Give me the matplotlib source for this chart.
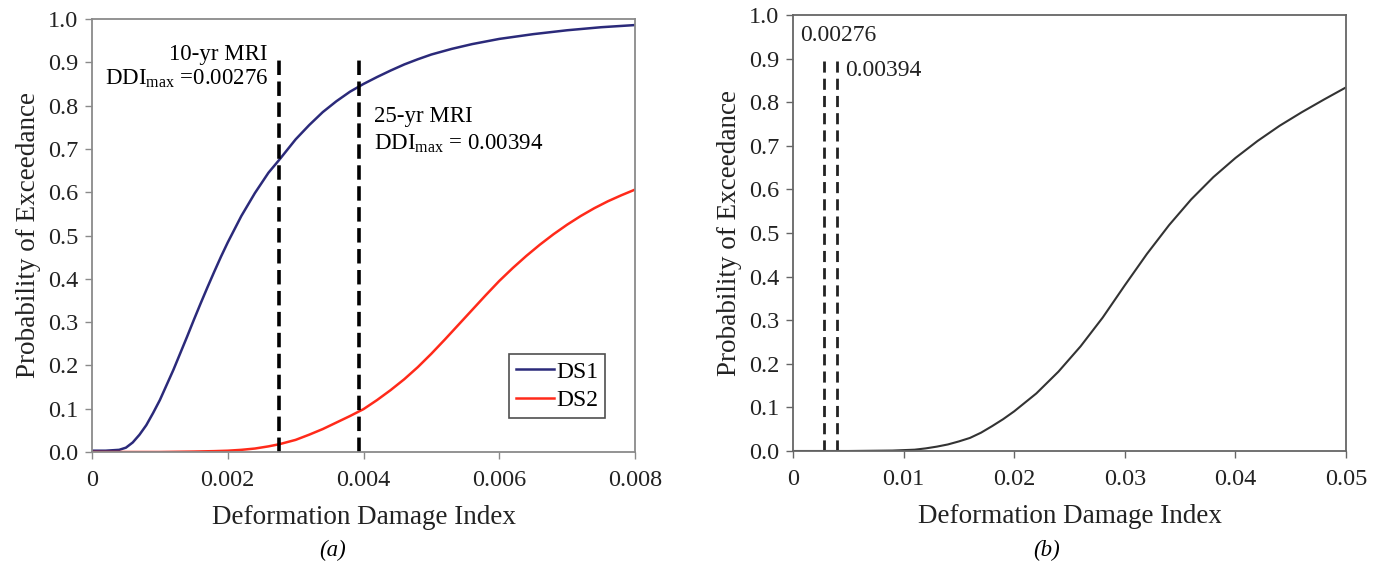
import matplotlib
matplotlib.use("Agg")
import matplotlib.pyplot as plt
import numpy as np

plt.rcParams['font.family'] = ['Liberation Serif', 'DejaVu Serif']
plt.rcParams['mathtext.fontset'] = 'custom'
plt.rcParams['mathtext.rm'] = 'Liberation Serif'
plt.rcParams['mathtext.it'] = 'Liberation Serif:italic'

# ---- data ----
ds1_x = [0.0, 0.0002, 0.0004, 0.0005, 0.0006, 0.0007, 0.0008, 0.0009, 0.0010,
         0.0011, 0.0012, 0.0013, 0.0014, 0.0015, 0.0016, 0.0017, 0.0018, 0.0019,
         0.0020, 0.0022, 0.0024, 0.0026, 0.00276, 0.0030, 0.0032, 0.0034, 0.0036,
         0.0038, 0.0040, 0.0042, 0.0044, 0.0046, 0.0048, 0.0050, 0.0053, 0.0056,
         0.0060, 0.0065, 0.0070, 0.0075, 0.0080]
ds1_y = [0.003, 0.003, 0.005, 0.010, 0.022, 0.040, 0.062, 0.090, 0.120,
         0.155, 0.190, 0.228, 0.266, 0.305, 0.343, 0.380, 0.416, 0.451,
         0.484, 0.545, 0.598, 0.645, 0.675, 0.722, 0.755, 0.785, 0.810,
         0.832, 0.850, 0.866, 0.881, 0.895, 0.907, 0.918, 0.931, 0.942,
         0.954, 0.965, 0.974, 0.981, 0.986]

ds2_x = [0.0, 0.0010, 0.0015, 0.0018, 0.0020, 0.0022, 0.0024, 0.0026, 0.00276,
         0.0030, 0.0032, 0.0034, 0.0036, 0.0038, 0.0040, 0.0042, 0.0044, 0.0046,
         0.0048, 0.0050, 0.0052, 0.0054, 0.0056, 0.0058, 0.0060, 0.0062, 0.0064,
         0.0066, 0.0068, 0.0070, 0.0072, 0.0074, 0.0076, 0.0078, 0.0080]
ds2_y = [0.0, 0.0, 0.001, 0.002, 0.003, 0.005, 0.008, 0.013, 0.018,
         0.028, 0.040, 0.053, 0.068, 0.083, 0.099, 0.120, 0.143, 0.168,
         0.196, 0.227, 0.260, 0.294, 0.328, 0.362, 0.395, 0.425, 0.453,
         0.479, 0.503, 0.525, 0.545, 0.563, 0.579, 0.593, 0.606]

b_x = [0.0, 0.005, 0.009, 0.010, 0.011, 0.012, 0.013, 0.014, 0.015, 0.016,
       0.017, 0.018, 0.019, 0.020, 0.022, 0.024, 0.026,
       0.028, 0.030, 0.032, 0.034, 0.036, 0.038, 0.040, 0.042, 0.044, 0.046,
       0.048, 0.050]
b_y = [0.0, 0.0, 0.001, 0.002, 0.003, 0.006, 0.010, 0.015, 0.022, 0.030,
       0.042, 0.057, 0.073, 0.091, 0.132, 0.182, 0.240,
       0.306, 0.380, 0.452, 0.518, 0.577, 0.628, 0.672, 0.711, 0.746, 0.777,
       0.806, 0.834]

mri_ddi = [0.00276, 0.00394]
yticks = [0.0, 0.1, 0.2, 0.3, 0.4, 0.5, 0.6, 0.7, 0.8, 0.9, 1.0]
xticks_a = [0, 0.002, 0.004, 0.006, 0.008]
xticks_b = [0, 0.01, 0.02, 0.03, 0.04, 0.05]

fig = plt.figure(figsize=(13.84, 5.66), dpi=100)
ax1 = fig.add_axes([92/1384, 1-452/566, 543/1384, 433/566])
ax2 = fig.add_axes([793/1384, 1-451/566, 553/1384, 436/566])


def style_axes(ax, xticks, xlabels, spine_col):
    ax.set_ylim(0, 1.0)
    ax.set_yticks(yticks)
    ax.set_yticklabels(['%.1f' % v for v in yticks])
    ax.set_xticks(xticks)
    ax.set_xticklabels(xlabels)
    ax.set_xlim(xticks[0], xticks[-1])
    for s in ax.spines.values():
        s.set_color(spine_col)
        s.set_linewidth(1.3)
    ax.tick_params(direction='out', length=5, width=1, colors=spine_col,
                   labelcolor='#222222', labelsize=17.5)
    ax.tick_params(axis='x', pad=8)
    ax.tick_params(axis='y', pad=5)
    ax.set_xlabel('Deformation Damage Index', fontsize=19.5, color='#222222', labelpad=10)
    ax.set_ylabel('Probability of Exceedance', fontsize=19.5, color='#222222', labelpad=5)


# ---- (a) ----
ax1.plot(ds1_x, ds1_y, color='#2b2a7a', lw=1.8, label='DS1')
ax1.plot(ds2_x, ds2_y, color='#ff2a1a', lw=1.8, label='DS2')
for d in mri_ddi:
    ax1.plot([d, d], [0, 0.91], color='black', lw=2.6, ls=(0, (4, 1.8)))
style_axes(ax1, xticks_a, ['0', '0.002', '0.004', '0.006', '0.008'], '#8a8a8a')

ax1.text(0.00259, 0.919, '10-yr MRI', ha='right', va='center', fontsize=16.5)
ax1.text(0.00259, 0.861, r'DDI$_{\mathrm{max}}$ =0.00276', ha='right', va='center', fontsize=16.5)
ax1.text(0.00415, 0.774, '25-yr MRI', ha='left', va='center', fontsize=16.5)
ax1.text(0.00415, 0.711, r'DDI$_{\mathrm{max}}$ = 0.00394', ha='left', va='center', fontsize=16.5)

leg = ax1.legend(loc='lower right', bbox_to_anchor=(0.945, 0.078), fontsize=17,
                 frameon=True, fancybox=False, handlelength=1.6, handletextpad=0.1,
                 borderpad=0.3, labelspacing=0.3, borderaxespad=0)
leg.get_frame().set_edgecolor('#222222')
leg.get_frame().set_linewidth(1.2)

# ---- (b) ----
ax2.plot(b_x, b_y, color='#333333', lw=1.5)
for d in mri_ddi:
    ax2.plot([d, d], [0, 0.905], color='#222222', lw=2.0, ls=(0, (4, 2.2)))
style_axes(ax2, xticks_b, ['0', '0.01', '0.02', '0.03', '0.04', '0.05'], '#666666')
ax2.text(0.00067, 0.954, '0.00276', ha='left', va='center', fontsize=17, color='#222222')
ax2.text(0.0047, 0.873, '0.00394', ha='left', va='center', fontsize=17, color='#222222')

fig.text(333/1384, 1-550/566, '(a)', ha='center', va='center', fontsize=16.5, style='italic')
fig.text(1047/1384, 1-550/566, '(b)', ha='center', va='center', fontsize=16.5, style='italic')

fig.savefig('out.png', dpi=100)
